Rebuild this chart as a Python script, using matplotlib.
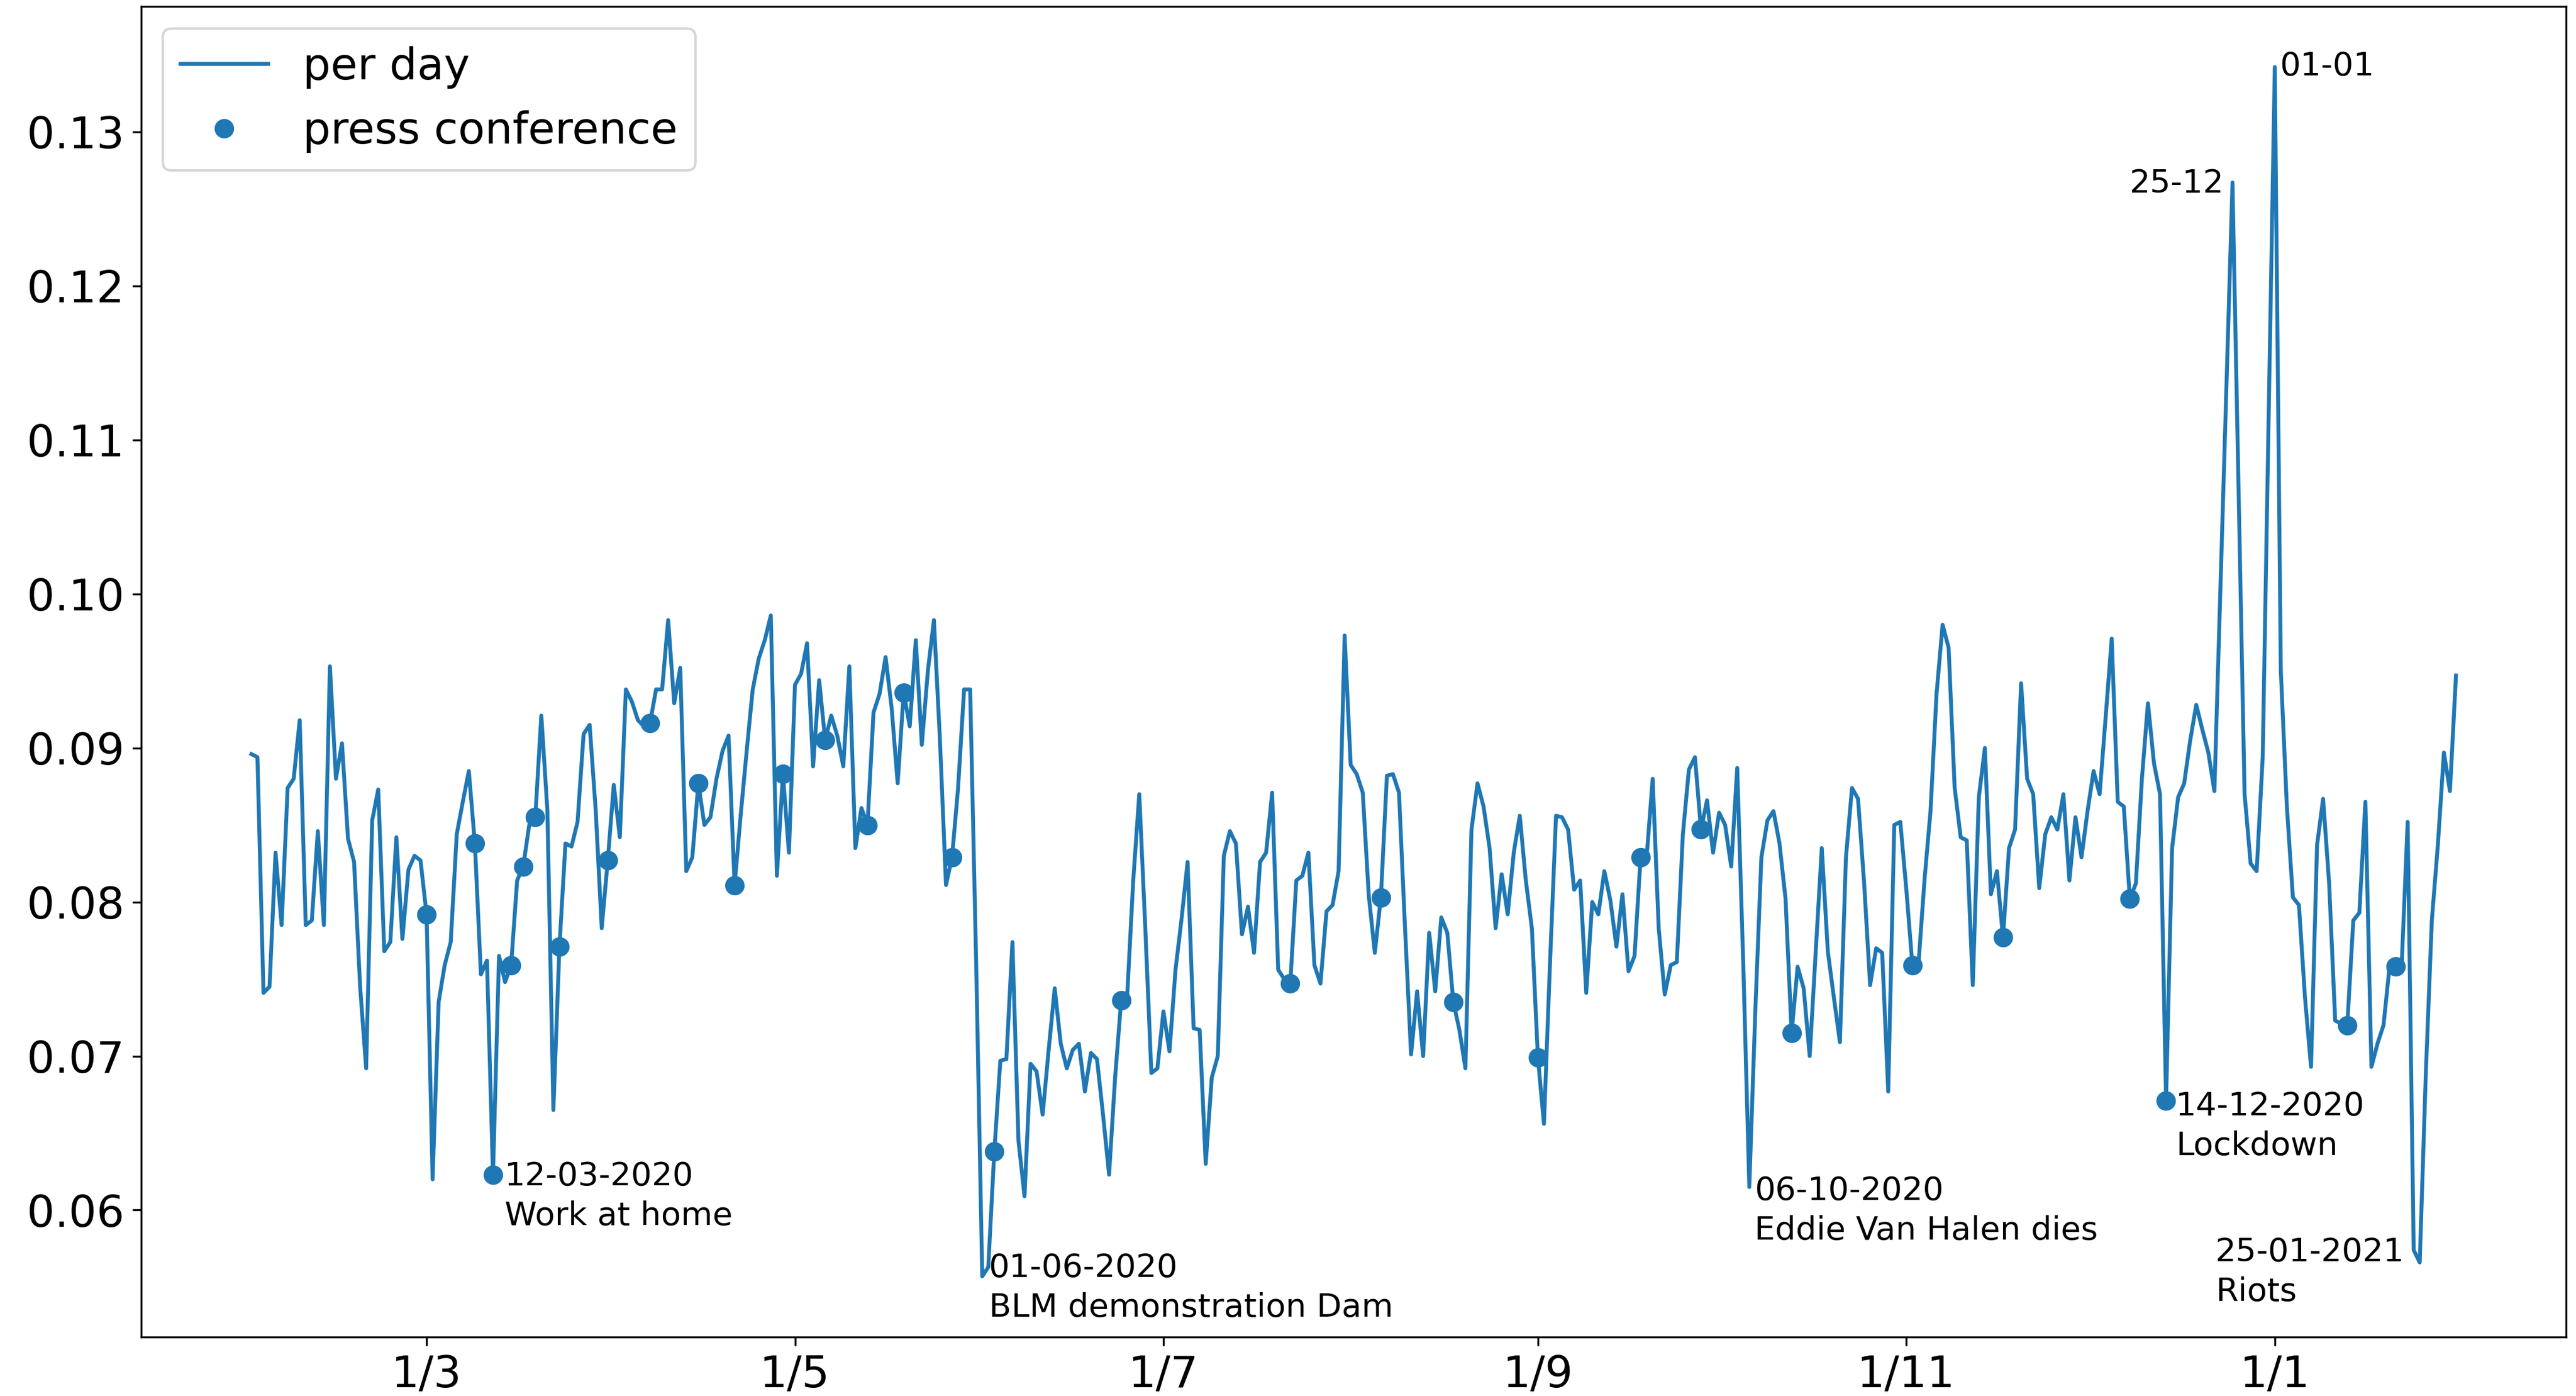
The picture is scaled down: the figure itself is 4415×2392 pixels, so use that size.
import pandas as pd
import matplotlib
matplotlib.use("Agg")
import matplotlib.pyplot as plt
import matplotlib.dates as mdates
from matplotlib.ticker import FuncFormatter

plt.rcParams["font.size"] = 18

# daily score, 1 Feb 2020 .. 31 Jan 2021
start_date = "2020-02-01"
per_day = [
    0.0896, 0.0894, 0.0741, 0.0745, 0.0832, 0.0785, 0.0874, 0.0880, 0.0918, 0.0785,
    0.0788, 0.0846, 0.0785, 0.0953, 0.0880, 0.0903, 0.0841, 0.0826, 0.0745, 0.0692,
    0.0853, 0.0873, 0.0768, 0.0774, 0.0842, 0.0776, 0.0821, 0.0830, 0.0827, 0.0792,
    0.0620, 0.0735, 0.0759, 0.0774, 0.0844, 0.0865, 0.0885, 0.0838, 0.0753, 0.0762,
    0.0623, 0.0765, 0.0748, 0.0759, 0.0814, 0.0823, 0.0850, 0.0855, 0.0921, 0.0860,
    0.0665, 0.0771, 0.0838, 0.0836, 0.0852, 0.0909, 0.0915, 0.0860, 0.0783, 0.0827,
    0.0876, 0.0842, 0.0938, 0.0930, 0.0918, 0.0914, 0.0916, 0.0938, 0.0938, 0.0983,
    0.0929, 0.0952, 0.0820, 0.0829, 0.0877, 0.0850, 0.0855, 0.0880, 0.0898, 0.0908,
    0.0811, 0.0856, 0.0898, 0.0938, 0.0958, 0.0970, 0.0986, 0.0817, 0.0883, 0.0832,
    0.0941, 0.0948, 0.0968, 0.0888, 0.0944, 0.0905, 0.0921, 0.0908, 0.0888, 0.0953,
    0.0835, 0.0861, 0.0850, 0.0923, 0.0935, 0.0959, 0.0926, 0.0877, 0.0936, 0.0914,
    0.0970, 0.0902, 0.0950, 0.0983, 0.0905, 0.0811, 0.0829, 0.0874, 0.0938, 0.0938,
    0.0760, 0.0557, 0.0563, 0.0638, 0.0697, 0.0698, 0.0774, 0.0645, 0.0609, 0.0695,
    0.0690, 0.0662, 0.0704, 0.0744, 0.0708, 0.0692, 0.0704, 0.0708, 0.0677, 0.0702,
    0.0698, 0.0662, 0.0623, 0.0686, 0.0736, 0.0739, 0.0814, 0.0870, 0.0783, 0.0689,
    0.0692, 0.0729, 0.0703, 0.0756, 0.0789, 0.0826, 0.0718, 0.0717, 0.0630, 0.0686,
    0.0700, 0.0830, 0.0846, 0.0838, 0.0779, 0.0797, 0.0767, 0.0826, 0.0832, 0.0871,
    0.0756, 0.0750, 0.0747, 0.0814, 0.0817, 0.0832, 0.0759, 0.0747, 0.0794, 0.0798,
    0.0820, 0.0973, 0.0889, 0.0883, 0.0871, 0.0804, 0.0767, 0.0803, 0.0882, 0.0883,
    0.0871, 0.0783, 0.0701, 0.0742, 0.0700, 0.0780, 0.0742, 0.0790, 0.0780, 0.0735,
    0.0717, 0.0692, 0.0847, 0.0877, 0.0862, 0.0835, 0.0783, 0.0818, 0.0792, 0.0832,
    0.0856, 0.0814, 0.0783, 0.0699, 0.0656, 0.0760, 0.0856, 0.0855, 0.0847, 0.0808,
    0.0814, 0.0741, 0.0800, 0.0792, 0.0820, 0.0801, 0.0771, 0.0805, 0.0755, 0.0765,
    0.0829, 0.0829, 0.0880, 0.0783, 0.0740, 0.0759, 0.0761, 0.0844, 0.0886, 0.0894,
    0.0847, 0.0866, 0.0832, 0.0858, 0.0850, 0.0823, 0.0887, 0.0760, 0.0615, 0.0730,
    0.0829, 0.0853, 0.0859, 0.0838, 0.0802, 0.0715, 0.0758, 0.0744, 0.0700, 0.0768,
    0.0835, 0.0768, 0.0738, 0.0709, 0.0829, 0.0874, 0.0867, 0.0813, 0.0746, 0.0770,
    0.0767, 0.0677, 0.0850, 0.0852, 0.0808, 0.0759, 0.0759, 0.0814, 0.0859, 0.0935,
    0.0980, 0.0965, 0.0874, 0.0842, 0.0840, 0.0746, 0.0868, 0.0900, 0.0805, 0.0820,
    0.0777, 0.0835, 0.0847, 0.0942, 0.0880, 0.0870, 0.0809, 0.0844, 0.0855, 0.0847,
    0.0870, 0.0814, 0.0855, 0.0829, 0.0859, 0.0885, 0.0870, 0.0920, 0.0971, 0.0865,
    0.0862, 0.0802, 0.0812, 0.0880, 0.0929, 0.0890, 0.0870, 0.0671, 0.0835, 0.0868,
    0.0877, 0.0905, 0.0928, 0.0912, 0.0897, 0.0872, 0.1004, 0.1136, 0.1267, 0.1068,
    0.0870, 0.0825, 0.0820, 0.0894, 0.1118, 0.1342, 0.0950, 0.0862, 0.0803, 0.0798,
    0.0738, 0.0693, 0.0837, 0.0867, 0.0812, 0.0723, 0.0721, 0.0720, 0.0788, 0.0793,
    0.0865, 0.0693, 0.0708, 0.0720, 0.0758, 0.0758, 0.0758, 0.0852, 0.0574, 0.0566,
    0.0688, 0.0788, 0.0837, 0.0897, 0.0872, 0.0947,
]

press_dates = [
    "2020-03-01", "2020-03-09", "2020-03-12", "2020-03-15", "2020-03-17",
    "2020-03-19", "2020-03-23", "2020-03-31", "2020-04-07", "2020-04-15",
    "2020-04-21", "2020-04-29", "2020-05-06", "2020-05-13", "2020-05-19",
    "2020-05-27", "2020-06-03", "2020-06-24", "2020-07-22", "2020-08-06",
    "2020-08-18", "2020-09-01", "2020-09-18", "2020-09-28", "2020-10-13",
    "2020-11-02", "2020-11-17", "2020-12-08", "2020-12-14", "2021-01-13",
    "2021-01-21",
]

# (date, label, horizontal alignment, offset in points)
events = [
    ("2020-03-12", "12-03-2020\nWork at home", "left", (4.7, -20.6)),
    ("2020-06-01", "01-06-2020\nBLM demonstration Dam", "left", (2.7, -16.6)),
    ("2020-10-06", "06-10-2020\nEddie Van Halen dies", "left", (2.1, -21.6)),
    ("2020-12-14", "14-12-2020\nLockdown", "left", (4.0, -22.3)),
    ("2021-01-25", "25-01-2021\nRiots", "right", (-6.2, -15.8)),
    ("2020-12-25", "25-12", "right", (-3.4, -4.0)),
    ("2021-01-01", "01-01", "left", (2.0, -3.4)),
]

series = pd.Series(per_day, index=pd.date_range(start_date, periods=len(per_day), freq="D"))
press = series.loc[pd.to_datetime(press_dates)]

fig, ax = plt.subplots(figsize=(4415 / 300, 2392 / 300), dpi=300)
fig.subplots_adjust(left=0.0548, right=0.9962, top=0.9953, bottom=0.0424)

ax.plot(series.index, series.values, color="#1f77b4", lw=1.6, label="per day")
ax.plot(press.index, press.values, "o", color="#1f77b4", ms=7, label="press conference")

for date, label, ha, offset in events:
    d = pd.Timestamp(date)
    ax.annotate(label, (d, series.loc[d]), xytext=offset, textcoords="offset points",
                ha=ha, multialignment="left", linespacing=1.33, fontsize=13.4)

ax.xaxis.set_major_locator(mdates.MonthLocator(bymonth=[1, 3, 5, 7, 9, 11]))
ax.xaxis.set_major_formatter(FuncFormatter(lambda v, pos: "%d/%d" % (mdates.num2date(v).day, mdates.num2date(v).month)))

ax.legend(loc="upper left")

fig.savefig("out.png", dpi=300)
